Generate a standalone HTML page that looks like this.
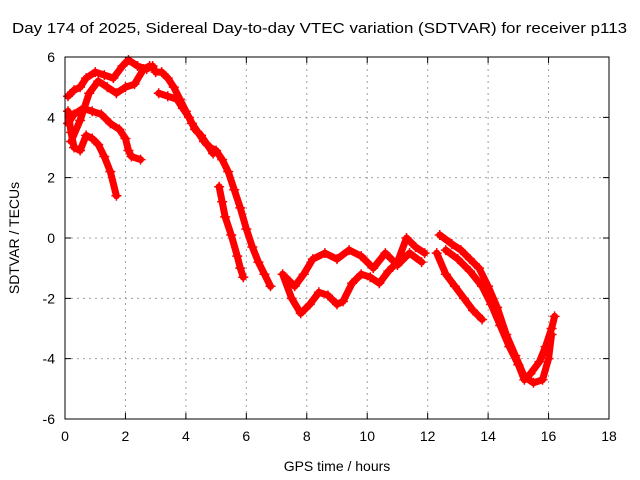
<!DOCTYPE html>
<html><head><meta charset="utf-8"><style>
html,body{margin:0;padding:0;background:#fff;}
svg{display:block;font-family:"Liberation Sans",sans-serif;}
</style></head><body>
<svg id="chart" width="640" height="480" viewBox="0 0 640 480" xmlns="http://www.w3.org/2000/svg">
<rect width="640" height="480" fill="#fff"/>
<text x="12" y="33" font-size="15" textLength="615" lengthAdjust="spacingAndGlyphs">Day 174 of 2025, Sidereal Day-to-day VTEC variation (SDTVAR) for receiver p113</text>
<text x="337" y="471" text-anchor="middle" font-size="14">GPS time / hours</text>
<text transform="translate(19,238) rotate(-90)" text-anchor="middle" font-size="14">SDTVAR / TECUs</text>
<g id="grid"></g>
<g id="series"></g>
<rect x="65" y="57" width="544" height="362" fill="none" stroke="#000" stroke-width="1"/>
</svg>
<script>
const xTicks=[0,2,4,6,8,10,12,14,16,18];
const yTicks=[-6,-4,-2,0,2,4,6];
const track1=[[0.1,4.7],[0.3,4.9],[0.5,5.0],[0.7,5.3],[1.0,5.5],[1.3,5.4],[1.6,5.3],[1.9,5.7],[2.1,5.9],[2.4,5.7],[2.7,5.6],[2.9,5.7],[3.0,5.5],[3.2,5.5],[3.4,5.3],[3.6,5.0],[3.8,4.6],[4.0,4.2],[4.2,3.8],[4.4,3.5],[4.6,3.2],[4.8,3.0],[5.0,2.9],[5.2,2.6],[5.4,2.2],[5.6,1.6],[5.8,1.0],[6.0,0.3],[6.2,-0.3],[6.4,-0.8],[6.6,-1.2],[6.8,-1.6]];
const track2=[[0.1,4.2],[0.2,3.5],[0.3,3.0],[0.5,2.9],[0.7,3.4],[0.9,3.3],[1.1,3.1],[1.3,2.7],[1.5,2.2],[1.7,1.4]];
const track3=[[0.1,3.8],[0.3,4.1],[0.6,4.3],[0.9,4.2],[1.2,4.1],[1.5,3.8],[1.8,3.6],[2.0,3.3],[2.1,2.9],[2.2,2.7],[2.5,2.6]];
const track4=[[0.2,3.2],[0.5,3.9],[0.8,4.8],[1.1,5.2],[1.4,5.0],[1.7,4.8],[2.0,5.0],[2.3,5.1],[2.6,5.6],[2.8,5.7]];
const track5=[[3.1,4.8],[3.4,4.7],[3.7,4.6],[3.9,4.3],[4.1,4.0],[4.3,3.6],[4.5,3.4],[4.7,3.1],[4.9,2.8]];
const track6=[[5.1,1.7],[5.2,1.2],[5.3,0.7],[5.5,0.1],[5.7,-0.6],[5.8,-1.0],[5.9,-1.3]];
const track7=[[7.2,-1.2],[7.5,-2.0],[7.8,-2.5],[8.1,-2.2],[8.4,-1.8],[8.7,-1.9],[9.0,-2.2],[9.2,-2.1],[9.5,-1.5],[9.8,-1.2],[10.1,-1.3],[10.4,-1.5],[10.7,-1.1],[11.0,-0.8],[11.3,0.0],[11.6,-0.3],[11.9,-0.5]];
const track8=[[7.3,-1.3],[7.6,-1.6],[7.9,-1.2],[8.2,-0.7],[8.6,-0.5],[9.0,-0.7],[9.4,-0.4],[9.8,-0.6],[10.2,-1.0],[10.6,-0.5],[11.0,-0.9],[11.4,-0.5],[11.8,-0.8]];
const track9=[[12.3,-0.5],[12.6,-1.2],[12.9,-1.6],[13.2,-2.0],[13.5,-2.4],[13.8,-2.7]];
const track10=[[12.4,0.1],[12.8,-0.2],[13.1,-0.4],[13.4,-0.7],[13.7,-1.0],[14.0,-1.6],[14.3,-2.3],[14.6,-3.2],[14.9,-3.9],[15.2,-4.6],[15.5,-4.8],[15.8,-4.7],[16.0,-4.0],[16.1,-3.2]];
const track11=[[12.6,-0.4],[13.0,-0.7],[13.4,-1.1],[13.8,-1.6],[14.1,-2.2],[14.4,-2.9],[14.7,-3.6],[15.0,-4.2],[15.2,-4.7],[15.4,-4.5],[15.7,-4.1],[15.9,-3.6],[16.1,-3.0],[16.2,-2.6]];
const tracks=[track1,track2,track3,track4,track5,track6,track7,track8,track9,track10,track11];

const X0=65,X1=609,Y0=419,Y1=57;
const xs=v=>X0+(v-0)/(18-0)*(X1-X0);
const ys=v=>Y0-(v+6)/12*(Y0-Y1);
const NS="http://www.w3.org/2000/svg";
const grid=document.getElementById('grid');
function mk(tag,attrs,parent){const e=document.createElementNS(NS,tag);for(const k in attrs)e.setAttribute(k,attrs[k]);parent.appendChild(e);return e;}
xTicks.forEach(t=>{
  const x=xs(t);
  if(t>0&&t<18){const g=mk('line',{x1:x,x2:x,y1:Y0,y2:Y1,stroke:'#a0a0a0','stroke-dasharray':'2,4'},grid);
  
  }
  const tk=mk('path',{d:`M${x},${Y0}v-6M${x},${Y1}v6`,stroke:'#000'},grid);
  
  
  const l=mk('text',{x:x,y:Y0+22,'text-anchor':'middle','font-size':'14'},grid);
  l.textContent=t;
  
  
});
yTicks.forEach(t=>{
  const y=ys(t);
  if(t>-6&&t<6){const g=mk('line',{x1:X0,x2:X1,y1:y,y2:y,stroke:'#a0a0a0','stroke-dasharray':'2,4'},grid);
  
  }
  const tk=mk('path',{d:`M${X0},${y}h6M${X1},${y}h-6`,stroke:'#000'},grid);
  
  
  const l=mk('text',{x:X0-10,y:y+5,'text-anchor':'end','font-size':'14'},grid);
  l.textContent=t;
  
  
});
const ser=document.getElementById('series');
tracks.forEach((tr,i)=>{
  const pl=mk('polyline',{points:tr.map(p=>xs(p[0])+','+ys(p[1])).join(' '),fill:'none',stroke:'#ff0000','stroke-width':'7','stroke-linejoin':'round','stroke-linecap':'round'},ser);
  
  
  tr.forEach(p=>{
    const x=xs(p[0]),y=ys(p[1]);
    const m=mk('path',{d:`M${x-5},${y}h10M${x},${y-5}v10`,stroke:'#ff0000','stroke-width':'1.5'},ser);
    
    
  });
});
</script>
</body></html>
